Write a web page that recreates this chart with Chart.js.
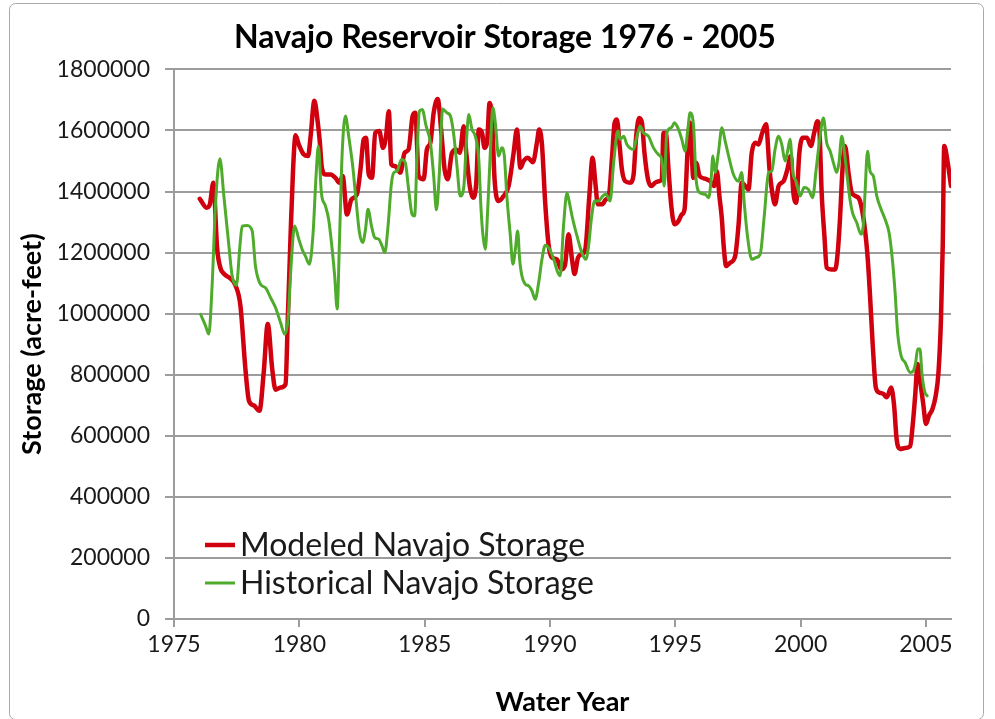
<!DOCTYPE html>
<html>
<head>
<meta charset="utf-8">
<title>Navajo Reservoir Storage</title>
<script src="https://cdn.jsdelivr.net/npm/chart.js@4.4.1/dist/chart.umd.min.js"></script>
<style>
  html, body { margin: 0; padding: 0; background: #fff; }
  canvas { display: block; }
</style>
</head>
<body>
<canvas id="storageChart" width="995" height="719"></canvas>
<script>
// modeled storage (acre-feet) by decimal water year
const modeledYears = [
  1976.03, 1976.30, 1976.43, 1976.57, 1976.72, 1976.85, 1977.00, 1977.25, 1977.45, 1977.65,
  1977.85, 1977.99, 1978.19, 1978.41, 1978.58, 1978.74, 1978.92, 1979.05, 1979.25, 1979.45,
  1979.54, 1979.65, 1979.75, 1979.85, 1979.98, 1980.18, 1980.35, 1980.45, 1980.60, 1980.73,
  1980.82, 1980.90, 1981.04, 1981.24, 1981.44, 1981.60, 1981.73, 1981.90, 1982.08, 1982.30,
  1982.44, 1982.57, 1982.66, 1982.77, 1982.90, 1983.03, 1983.19, 1983.34, 1983.46, 1983.57,
  1983.67, 1983.83, 1984.03, 1984.20, 1984.36, 1984.52, 1984.63, 1984.76, 1984.96, 1985.09,
  1985.23, 1985.36, 1985.52, 1985.66, 1985.80, 1985.92, 1986.09, 1986.26, 1986.40, 1986.56,
  1986.66, 1986.80, 1986.93, 1987.06, 1987.16, 1987.29, 1987.39, 1987.49, 1987.59, 1987.69,
  1987.79, 1987.95, 1988.15, 1988.35, 1988.55, 1988.68, 1988.82, 1988.95, 1989.11, 1989.32,
  1989.48, 1989.57, 1989.68, 1989.81, 1989.95, 1990.08, 1990.28, 1990.45, 1990.60, 1990.74,
  1990.88, 1990.98, 1991.12, 1991.27, 1991.41, 1991.57, 1991.70, 1991.81, 1991.91, 1992.07,
  1992.23, 1992.36, 1992.47, 1992.58, 1992.67, 1992.78, 1992.87, 1993.00, 1993.20, 1993.33,
  1993.44, 1993.56, 1993.67, 1993.77, 1993.91, 1994.04, 1994.20, 1994.36, 1994.46, 1994.53,
  1994.62, 1994.73, 1994.84, 1994.97, 1995.13, 1995.26, 1995.37, 1995.50, 1995.59, 1995.72,
  1995.83, 1995.97, 1996.19, 1996.39, 1996.55, 1996.66, 1996.76, 1996.86, 1996.92, 1997.03,
  1997.19, 1997.39, 1997.52, 1997.65, 1997.79, 1997.92, 1998.05, 1998.19, 1998.32, 1998.45,
  1998.62, 1998.76, 1998.89, 1998.98, 1999.12, 1999.32, 1999.47, 1999.61, 1999.71, 1999.82,
  1999.95, 2000.09, 2000.25, 2000.41, 2000.54, 2000.67, 2000.75, 2000.84, 2000.95, 2001.04,
  2001.22, 2001.38, 2001.48, 2001.57, 2001.67, 2001.77, 2001.91, 2002.04, 2002.20, 2002.37,
  2002.55, 2002.68, 2002.77, 2002.88, 2003.00, 2003.13, 2003.30, 2003.44, 2003.61, 2003.73,
  2003.83, 2003.97, 2004.17, 2004.37, 2004.47, 2004.57, 2004.67, 2004.76, 2004.90, 2005.00,
  2005.12, 2005.26, 2005.39, 2005.50, 2005.60, 2005.67, 2005.73, 2005.87, 2006.00
];
const modeledStorage = [
  1376000, 1347000, 1358000, 1429000, 1215000, 1150000, 1130000, 1115000, 1093000, 1026000,
  818000, 715000, 699000, 682000, 808000, 966000, 818000, 751000, 758000, 769000,
  982000, 1254000, 1472000, 1584000, 1554000, 1521000, 1516000, 1581000, 1697000, 1630000,
  1560000, 1478000, 1456000, 1456000, 1445000, 1429000, 1451000, 1325000, 1374000, 1391000,
  1472000, 1571000, 1576000, 1456000, 1445000, 1592000, 1598000, 1543000, 1581000, 1663000,
  1489000, 1483000, 1462000, 1527000, 1538000, 1647000, 1658000, 1451000, 1440000, 1538000,
  1560000, 1658000, 1703000, 1600000, 1470000, 1440000, 1527000, 1538000, 1527000, 1614000,
  1527000, 1418000, 1380000, 1429000, 1603000, 1592000, 1543000, 1560000, 1690000, 1636000,
  1440000, 1369000, 1385000, 1418000, 1527000, 1603000, 1478000, 1500000, 1511000, 1496000,
  1560000, 1603000, 1554000, 1363000, 1222000, 1184000, 1178000, 1145000, 1160000, 1260000,
  1178000, 1130000, 1184000, 1195000, 1211000, 1385000, 1511000, 1429000, 1358000, 1358000,
  1374000, 1391000, 1505000, 1625000, 1636000, 1549000, 1472000, 1434000, 1429000, 1451000,
  1581000, 1641000, 1625000, 1527000, 1440000, 1418000, 1429000, 1434000, 1440000, 1592000,
  1592000, 1472000, 1353000, 1293000, 1304000, 1325000, 1342000, 1549000, 1625000, 1445000,
  1494000, 1451000, 1442000, 1434000, 1418000, 1467000, 1385000, 1309000, 1233000, 1156000,
  1167000, 1189000, 1287000, 1429000, 1418000, 1407000, 1527000, 1560000, 1554000, 1587000,
  1620000, 1472000, 1385000, 1358000, 1418000, 1434000, 1472000, 1516000, 1396000, 1363000,
  1527000, 1576000, 1576000, 1549000, 1592000, 1630000, 1600000, 1396000, 1254000, 1151000,
  1145000, 1145000, 1200000, 1309000, 1472000, 1549000, 1462000, 1396000, 1385000, 1369000,
  1287000, 1178000, 1058000, 894000, 758000, 742000, 737000, 726000, 758000, 699000,
  590000, 557000, 560000, 566000, 633000, 731000, 835000, 786000, 699000, 639000,
  666000, 688000, 731000, 807000, 982000, 1222000, 1549000, 1494000, 1418000
];

// historical storage (acre-feet) by decimal water year
const historicalYears = [
  1976.06, 1976.26, 1976.39, 1976.52, 1976.66, 1976.83, 1976.99, 1977.19, 1977.32, 1977.49,
  1977.63, 1977.72, 1977.92, 1978.12, 1978.25, 1978.45, 1978.65, 1978.85, 1979.05, 1979.25,
  1979.42, 1979.55, 1979.67, 1979.81, 1979.98, 1980.11, 1980.24, 1980.40, 1980.55, 1980.66,
  1980.76, 1980.88, 1981.04, 1981.17, 1981.31, 1981.41, 1981.51, 1981.60, 1981.71, 1981.84,
  1981.97, 1982.13, 1982.26, 1982.40, 1982.53, 1982.64, 1982.74, 1982.88, 1983.01, 1983.17,
  1983.30, 1983.41, 1983.54, 1983.67, 1983.77, 1983.90, 1984.07, 1984.23, 1984.36, 1984.50,
  1984.60, 1984.70, 1984.79, 1984.90, 1985.06, 1985.23, 1985.36, 1985.47, 1985.58, 1985.72,
  1985.89, 1986.03, 1986.16, 1986.29, 1986.42, 1986.56, 1986.66, 1986.76, 1986.89, 1987.02,
  1987.16, 1987.25, 1987.33, 1987.42, 1987.51, 1987.62, 1987.72, 1987.82, 1987.95, 1988.08,
  1988.18, 1988.28, 1988.42, 1988.52, 1988.62, 1988.71, 1988.79, 1988.88, 1989.02, 1989.15,
  1989.28, 1989.41, 1989.55, 1989.68, 1989.81, 1989.95, 1990.15, 1990.31, 1990.41, 1990.54,
  1990.68, 1990.76, 1990.88, 1991.08, 1991.27, 1991.43, 1991.54, 1991.65, 1991.78, 1991.94,
  1992.10, 1992.23, 1992.40, 1992.54, 1992.71, 1992.80, 1992.94, 1993.07, 1993.33, 1993.47,
  1993.60, 1993.73, 1993.93, 1994.13, 1994.33, 1994.46, 1994.56, 1994.66, 1994.84, 1994.97,
  1995.13, 1995.26, 1995.39, 1995.50, 1995.59, 1995.73, 1995.83, 1995.99, 1996.19, 1996.33,
  1996.42, 1996.50, 1996.59, 1996.72, 1996.86, 1996.99, 1997.16, 1997.32, 1997.52, 1997.65,
  1997.75, 1997.88, 1998.05, 1998.23, 1998.39, 1998.55, 1998.72, 1998.85, 1998.98, 1999.12,
  1999.25, 1999.38, 1999.47, 1999.58, 1999.69, 1999.82, 1999.98, 2000.14, 2000.31, 2000.48,
  2000.62, 2000.76, 2000.91, 2001.04, 2001.18, 2001.31, 2001.44, 2001.53, 2001.64, 2001.75,
  2001.84, 2001.97, 2002.07, 2002.24, 2002.41, 2002.51, 2002.57, 2002.67, 2002.77, 2002.90,
  2003.04, 2003.21, 2003.37, 2003.53, 2003.66, 2003.77, 2003.87, 2004.01, 2004.17, 2004.37,
  2004.50, 2004.59, 2004.67, 2004.76, 2004.85, 2004.96, 2005.05
];
const historicalStorage = [
  998000, 960000, 933000, 1091000, 1363000, 1507000, 1385000, 1222000, 1124000, 1093000,
  1222000, 1287000, 1289000, 1271000, 1156000, 1096000, 1085000, 1053000, 1020000, 971000,
  933000, 982000, 1156000, 1287000, 1244000, 1211000, 1189000, 1162000, 1265000, 1440000,
  1548000, 1396000, 1353000, 1309000, 1211000, 1124000, 1015000, 1233000, 1527000, 1647000,
  1581000, 1483000, 1374000, 1265000, 1233000, 1276000, 1342000, 1287000, 1249000, 1244000,
  1222000, 1200000, 1287000, 1423000, 1462000, 1467000, 1505000, 1494000, 1407000, 1325000,
  1320000, 1527000, 1663000, 1669000, 1614000, 1560000, 1451000, 1340000, 1450000, 1670000,
  1658000, 1647000, 1587000, 1483000, 1385000, 1413000, 1554000, 1652000, 1603000, 1581000,
  1505000, 1342000, 1254000, 1211000, 1331000, 1527000, 1674000, 1625000, 1516000, 1543000,
  1516000, 1385000, 1254000, 1162000, 1211000, 1271000, 1178000, 1124000, 1096000, 1091000,
  1075000, 1047000, 1102000, 1178000, 1224000, 1216000, 1178000, 1135000, 1124000, 1287000,
  1395000, 1370000, 1320000, 1254000, 1200000, 1178000, 1222000, 1309000, 1369000, 1369000,
  1385000, 1391000, 1369000, 1494000, 1598000, 1571000, 1581000, 1554000, 1538000, 1581000,
  1614000, 1592000, 1581000, 1543000, 1521000, 1505000, 1418000, 1592000, 1609000, 1625000,
  1603000, 1571000, 1532000, 1603000, 1658000, 1614000, 1440000, 1396000, 1391000, 1380000,
  1429000, 1516000, 1462000, 1527000, 1609000, 1565000, 1505000, 1456000, 1434000, 1462000,
  1363000, 1254000, 1178000, 1184000, 1195000, 1320000, 1462000, 1467000, 1538000, 1581000,
  1554000, 1500000, 1527000, 1571000, 1462000, 1434000, 1385000, 1413000, 1407000, 1380000,
  1472000, 1570000, 1641000, 1560000, 1532000, 1494000, 1462000, 1494000, 1581000, 1527000,
  1462000, 1374000, 1331000, 1298000, 1260000, 1298000, 1396000, 1532000, 1467000, 1451000,
  1385000, 1342000, 1309000, 1265000, 1178000, 1069000, 938000, 862000, 840000, 807000,
  813000, 840000, 884000, 884000, 796000, 742000, 731000
];

const seriesLabels = ["Modeled Navajo Storage", "Historical Navajo Storage"];
const yearTicks = [1975, 1980, 1985, 1990, 1995, 2000, 2005];

function toPoints(xs, ys) {
    return xs.map((x, i) => ({x: x, y: ys[i]}));
}

// white page with a thin grey frame round the chart
const frame = {
    id: 'frame',
    beforeDraw(chart) {
        const ctx = chart.ctx;
        ctx.save();
        ctx.fillStyle = '#fff';
        ctx.fillRect(0, 0, chart.width, chart.height);
        ctx.strokeStyle = '#a9a9a9';
        ctx.lineWidth = 1;
        ctx.beginPath();
        ctx.roundRect(9.5, 3.5, 974, 716, 6);
        ctx.stroke();
        ctx.restore();
    }
};

// legend drawn inside the plot, lower left
const insideLegend = {
    id: 'insideLegend',
    afterDatasetsDraw(chart) {
        const ctx = chart.ctx;
        const area = chart.chartArea;
        const rows = [
            {ds: chart.data.datasets[0], y: area.bottom - 74},
            {ds: chart.data.datasets[1], y: area.bottom - 36}
        ];
        ctx.save();
        ctx.font = '32px Lato';
        ctx.textBaseline = 'middle';
        ctx.fillStyle = '#1a1a1a';
        rows.forEach(r => {
            ctx.strokeStyle = r.ds.borderColor;
            ctx.lineWidth = r.ds.borderWidth;
            ctx.beginPath();
            ctx.moveTo(area.left + 31, r.y);
            ctx.lineTo(area.left + 61, r.y);
            ctx.stroke();
            ctx.fillText(r.ds.label, area.left + 66, r.y + 1);
        });
        ctx.restore();
    }
};

function storageChart() {
    const ctx = document.getElementById("storageChart");
    new Chart(ctx, {
        type: "line",
        data: {
            datasets: [
                {
                    label: seriesLabels[0],
                    data: toPoints(modeledYears, modeledStorage),
                    borderColor: "#d0000f",
                    borderWidth: 4.5,
                    order: 1
                },
                {
                    label: seriesLabels[1],
                    data: toPoints(historicalYears, historicalStorage),
                    borderColor: "#4fab2c",
                    borderWidth: 3,
                    order: 0
                }
            ]
        },
        options: {
            responsive: false,
            animation: false,
            layout: {
                // left padding keeps the title centred where it sits over the plot
                padding: {left: 59, right: 44, top: 0, bottom: 0}
            },
            elements: {
                point: {radius: 0},
                line: {
                    tension: 0,
                    cubicInterpolationMode: "monotone",
                    borderJoinStyle: "round",
                    borderCapStyle: "round",
                    fill: false
                }
            },
            plugins: {
                legend: {display: false},
                tooltip: {enabled: false},
                title: {
                    display: true,
                    text: "Navajo Reservoir Storage 1976 - 2005",
                    color: "#000",
                    font: {family: "Lato", size: 32, weight: "bold"},
                    padding: {top: 18, bottom: 13}
                }
            },
            scales: {
                x: {
                    type: "linear",
                    min: 1975,
                    max: 2006,
                    afterBuildTicks: scale => {
                        scale.ticks = yearTicks.map(v => ({value: v}));
                    },
                    afterFit: scale => { scale.height = 100; },
                    ticks: {
                        autoSkip: false,
                        maxRotation: 0,
                        padding: 4,
                        color: "#1a1a1a",
                        font: {family: "Lato", size: 23},
                        callback: v => String(v)
                    },
                    grid: {
                        drawOnChartArea: false,
                        drawTicks: true,
                        tickLength: 8,
                        color: "#9c9c9c",
                        lineWidth: 2
                    },
                    border: {color: "#9c9c9c", width: 2},
                    title: {
                        display: true,
                        text: "Water Year",
                        color: "#000",
                        font: {family: "Lato", size: 27, weight: "bold"},
                        padding: {top: 0, bottom: 1}
                    }
                },
                y: {
                    min: 0,
                    max: 1800000,
                    afterFit: scale => { scale.width = 115; },
                    ticks: {
                        stepSize: 200000,
                        padding: 15,
                        color: "#1a1a1a",
                        font: {family: "Lato", size: 23},
                        callback: v => String(v)
                    },
                    grid: {
                        color: "#9c9c9c",
                        lineWidth: 2,
                        drawTicks: true,
                        tickLength: 9
                    },
                    border: {color: "#9c9c9c", width: 2},
                    title: {
                        display: true,
                        text: "Storage (acre-feet)",
                        color: "#000",
                        font: {family: "Lato", size: 27, weight: "bold"},
                        padding: {top: -43, bottom: 0}
                    }
                }
            }
        },
        plugins: [frame, insideLegend]
    });
}

storageChart();
</script>
</body>
</html>
